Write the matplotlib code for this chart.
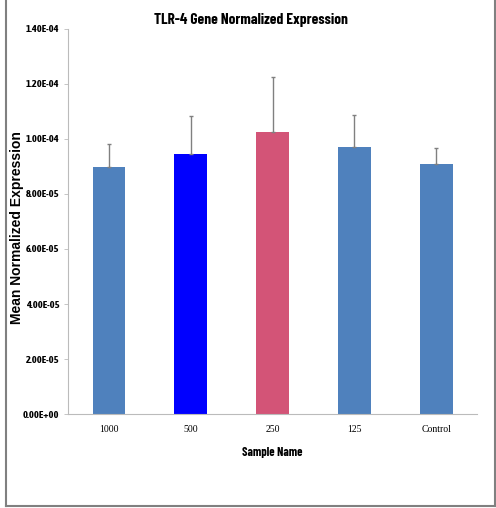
import matplotlib
matplotlib.use("Agg")
import matplotlib.pyplot as plt
from matplotlib.lines import Line2D
import numpy as np

categories = ["1000", "500", "250", "125", "Control"]
means = [8.97e-5, 9.45e-5, 10.24e-5, 9.72e-5, 9.08e-5]
errors = [0.84e-5, 1.40e-5, 2.00e-5, 1.16e-5, 0.60e-5]
colors = ["#4F81BD", "#0000FF", "#D35477", "#4F81BD", "#4F81BD"]
yticks = [0, 2e-5, 4e-5, 6e-5, 8e-5, 1.0e-4, 1.2e-4, 1.4e-4]

NARROW = "Barlow Condensed"
TICKFONT = "Asap Condensed"

fig = plt.figure(figsize=(4.96, 5.08), dpi=100)
ax = fig.add_axes([0.137, 0.185, 0.825, 0.758])

x = np.arange(len(categories))
ax.bar(x, means, width=0.4, color=colors, zorder=2)
ax.errorbar(x, means, yerr=[np.zeros(len(errors)), errors], fmt="none",
            ecolor="#808080", elinewidth=1.0, capsize=1.2, capthick=1.0, zorder=3)

ax.set_xlim(-0.5, 4.5)
ax.set_ylim(0, 1.4e-4)
ax.set_yticks(yticks)
ax.set_yticklabels(["{:.2E}".format(v) for v in yticks],
                   fontfamily=TICKFONT, fontweight="bold", fontsize=7.5)
ax.set_xticks(x)
ax.set_xticklabels(categories, fontfamily="Liberation Serif", fontsize=7)
ax.tick_params(axis="x", length=0, pad=8)
ax.tick_params(axis="y", length=3, width=0.6, color="#BBBBBB", pad=3)

for s in ["top", "right"]:
    ax.spines[s].set_visible(False)
for s in ["left", "bottom"]:
    ax.spines[s].set_color("#BBBBBB")
    ax.spines[s].set_linewidth(0.8)

fig.text(272/496, 1 - 453/508, "Sample Name", ha="center", va="center",
         fontfamily=NARROW, fontweight="bold", fontsize=8.8)
fig.text(17/496, 1 - 228/508, "Mean Normalized Expression", rotation=90, ha="center", va="center",
         fontfamily="Liberation Sans", fontweight="bold", fontsize=10)
fig.text(251/496, 1 - 20/508, "TLR-4 Gene Normalized Expression", ha="center", va="center",
         fontfamily=NARROW, fontweight="bold", fontsize=11)

# outer frame (left, right, bottom)
frame_kw = dict(transform=fig.transFigure, color="#808080", linewidth=1.5)
fig.add_artist(Line2D([6/496, 6/496], [1, 1 - 506/508], **frame_kw))
fig.add_artist(Line2D([495/496, 495/496], [1, 1 - 506/508], **frame_kw))
fig.add_artist(Line2D([6/496, 495/496], [1 - 506/508, 1 - 506/508], **frame_kw))

fig.savefig("out.png", dpi=100)
